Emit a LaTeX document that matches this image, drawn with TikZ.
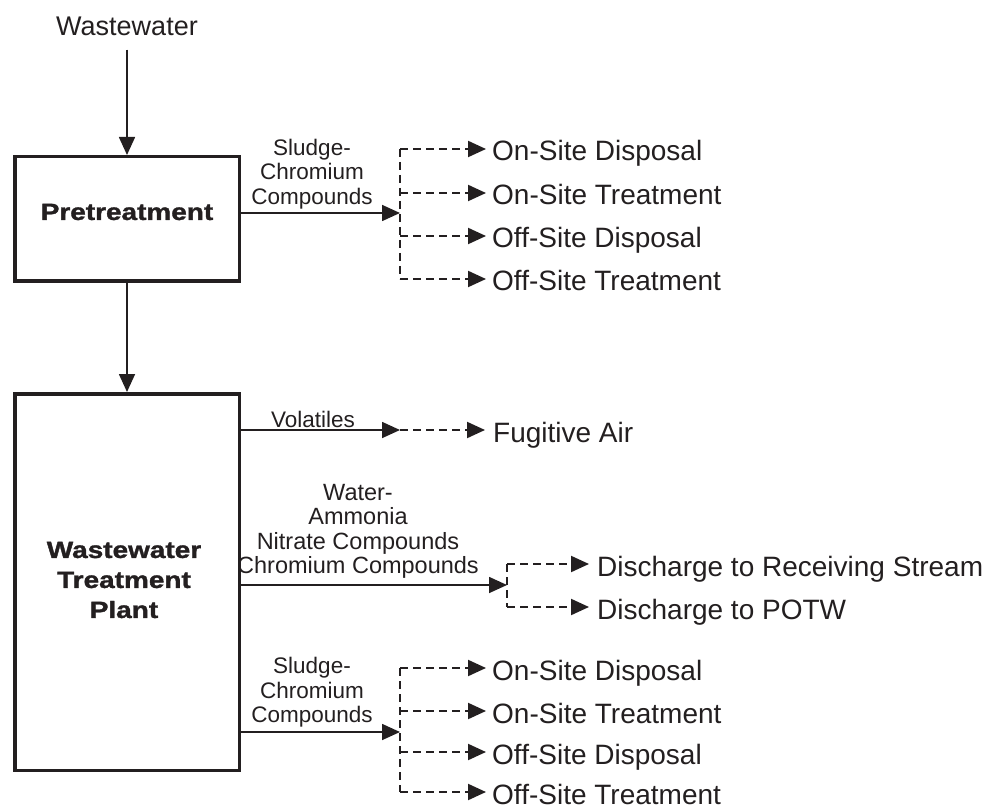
\documentclass[tikz,border=0pt]{standalone}
\usepackage{fontspec}
\usepackage{graphicx}
\setmainfont{Liberation Sans}
\newfontfamily\heavyfont{Liberation Sans}[BoldFeatures={FakeBold=1.3}]
\usetikzlibrary{arrows.meta}
\definecolor{ink}{HTML}{231F20}
\newcommand{\wideb}[1]{\scalebox{1.19}[1]{#1}}
\tikzset{
  box/.style={draw=ink, line width=3.5pt, inner sep=0pt},
  boldtxt/.style={text=ink, font=\fontsize{23.5}{30}\selectfont\heavyfont\bfseries, align=center, inner sep=0pt},
  small/.style={text=ink, font=\fontsize{22.5}{24.5}\selectfont, align=center, inner sep=0pt, anchor=north},
  dest/.style={text=ink, font=\fontsize{28}{30}\selectfont, inner sep=0pt, anchor=west, text height=26pt, text depth=2pt},
  solidarrow/.style={draw=ink, line width=1.7pt, -{Triangle[length=18pt,width=16pt]}},
  dashline/.style={draw=ink, line width=2.1pt, dash pattern=on 8pt off 5pt},
  dasharrow/.style={dashline, -{Triangle[length=18pt,width=16pt]}, shorten >=6pt},
}
\begin{document}
\begin{tikzpicture}[x=1pt,y=-1pt]
\useasboundingbox (0,0) rectangle (988,810);

% top input
\node[text=ink, font=\fontsize{27}{30}\selectfont, inner sep=0pt] (ww) at (127,26) {Wastewater};

% boxes
\node[box, minimum width=224.5pt, minimum height=124.5pt] (pre) at (127,219) {};
\node[boldtxt] (pretxt) at (127,212) {\wideb{Pretreatment}};
\node[box, minimum width=224.5pt, minimum height=376.5pt] (wtp) at (127,582) {};
\node[boldtxt] (wtptxt) at (124,580) {\wideb{Wastewater}\\\wideb{Treatment}\\\wideb{Plant}};

\draw[solidarrow, shorten <=14pt] (ww.south) -- (pre.north);
\draw[solidarrow] (pre.south) -- (wtp.north);

% ---------- pretreatment sludge ----------
\coordinate (bp1) at (400,213);
\node[small] (lab1) at (312,138.5) {Sludge-\\Chromium\\Compounds};
\draw[solidarrow] (pre.east |- bp1) -- (bp1);
\node[dest] (a1) at (492,149) {On-Site Disposal};
\node[dest] (a2) at (492,193) {On-Site Treatment};
\node[dest] (a3) at (492,236) {Off-Site Disposal};
\node[dest] (a4) at (492,279) {Off-Site Treatment};
\draw[dashline] (bp1 |- a1.west) -- (bp1 |- a4.west);
\foreach \n in {a1,a2,a3,a4}
  \draw[dasharrow] (bp1 |- \n.west) -- (\n.west);

% ---------- volatiles ----------
\coordinate (bv) at (400,430);
\node[small] (lab2) at (313,411) {Volatiles};
\draw[solidarrow] (wtp.east |- bv) -- (bv);
\node[dest] (fa) at (493,430) {Fugitive Air};
\draw[dasharrow, shorten >=8pt] (bv) -- (fa.west);

% ---------- water ----------
\coordinate (bw) at (507,585);
\node[small, font=\fontsize{23.5}{24.5}\selectfont] (lab3) at (358,484) {Water-\\Ammonia\\Nitrate Compounds\\Chromium Compounds};
\draw[solidarrow] (wtp.east |- bw) -- (bw);
\node[dest] (c1) at (597,564) {Discharge to Receiving Stream};
\node[dest] (c2) at (597,607) {Discharge to POTW};
\draw[dashline] (bw |- c1.west) -- (bw |- c2.west);
\foreach \n in {c1,c2}
  \draw[dasharrow, shorten >=8pt] (bw |- \n.west) -- (\n.west);

% ---------- WTP sludge ----------
\coordinate (bp2) at (400,732);
\node[small] (lab4) at (312,657) {Sludge-\\Chromium\\Compounds};
\draw[solidarrow] (wtp.east |- bp2) -- (bp2);
\node[dest] (b1) at (492,668) {On-Site Disposal};
\node[dest] (b2) at (492,711) {On-Site Treatment};
\node[dest] (b3) at (492,752) {Off-Site Disposal};
\node[dest] (b4) at (492,792) {Off-Site Treatment};
\draw[dashline] (bp2 |- b1.west) -- (bp2 |- b4.west);
\foreach \n in {b1,b2,b3,b4}
  \draw[dasharrow] (bp2 |- \n.west) -- (\n.west);
\end{tikzpicture}
\end{document}
